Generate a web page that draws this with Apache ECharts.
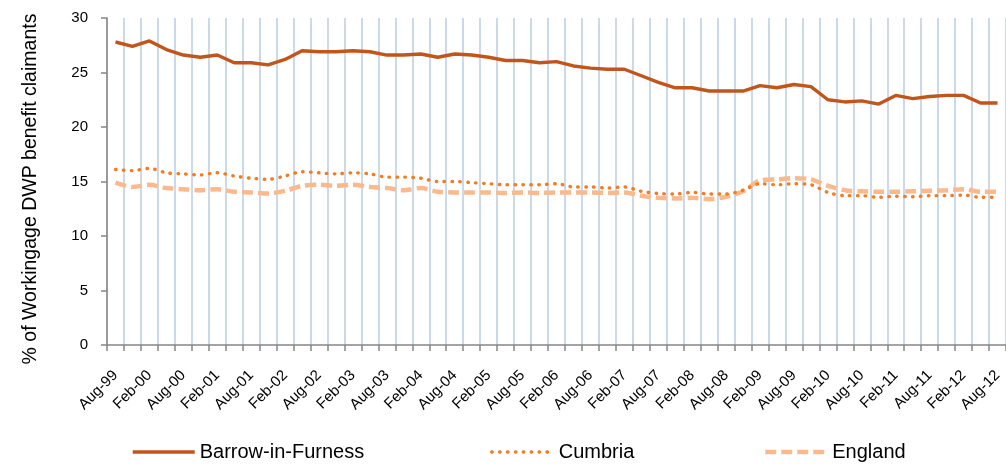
<!DOCTYPE html>
<html>
<head>
<meta charset="utf-8">
<script src="https://cdn.jsdelivr.net/npm/echarts@6/dist/echarts.min.js"></script>
<style>
  html, body { margin: 0; padding: 0; background: #fff; }
  #chart { width: 1006px; height: 464px; }
</style>
</head>
<body>
<div id="chart"></div>
<script>
// quarterly dates, Aug-99 .. Aug-12
const quarters = [
  'Aug-99', 'Nov-99', 'Feb-00', 'May-00', 'Aug-00', 'Nov-00', 'Feb-01', 'May-01',
  'Aug-01', 'Nov-01', 'Feb-02', 'May-02', 'Aug-02', 'Nov-02', 'Feb-03', 'May-03',
  'Aug-03', 'Nov-03', 'Feb-04', 'May-04', 'Aug-04', 'Nov-04', 'Feb-05', 'May-05',
  'Aug-05', 'Nov-05', 'Feb-06', 'May-06', 'Aug-06', 'Nov-06', 'Feb-07', 'May-07',
  'Aug-07', 'Nov-07', 'Feb-08', 'May-08', 'Aug-08', 'Nov-08', 'Feb-09', 'May-09',
  'Aug-09', 'Nov-09', 'Feb-10', 'May-10', 'Aug-10', 'Nov-10', 'Feb-11', 'May-11',
  'Aug-11', 'Nov-11', 'Feb-12', 'May-12', 'Aug-12'
];

const barrow = [
  27.8, 27.4, 27.9, 27.1, 26.6, 26.4, 26.6, 25.9, 25.9, 25.7, 26.2, 27.0, 26.9, 26.9,
  27.0, 26.9, 26.6, 26.6, 26.7, 26.4, 26.7, 26.6, 26.4, 26.1, 26.1, 25.9, 26.0, 25.6,
  25.4, 25.3, 25.3, 24.7, 24.1,
  23.6, 23.6, 23.3, 23.3, 23.3, 23.8, 23.6, 23.9, 23.7, 22.5, 22.3, 22.4, 22.1, 22.9,
  22.6, 22.8, 22.9, 22.9, 22.2, 22.2
];

const cumbria = [
  16.1, 16.0, 16.2, 15.8, 15.7, 15.6, 15.8, 15.5, 15.3, 15.2, 15.5, 15.9, 15.8, 15.7,
  15.8, 15.7, 15.4, 15.4, 15.3, 15.0, 15.0, 14.9, 14.8, 14.7, 14.7, 14.7, 14.8, 14.5,
  14.5, 14.4, 14.5, 14.1, 13.9,
  13.85, 14.0, 13.85, 13.85, 14.2, 14.8, 14.7, 14.8, 14.7, 14.0, 13.7, 13.7, 13.55, 13.65,
  13.6, 13.7, 13.7, 13.75, 13.55, 13.55
];

const england = [
  14.9, 14.5, 14.7, 14.4, 14.3, 14.2, 14.3, 14.05, 14.0, 13.9, 14.15, 14.6, 14.7, 14.6,
  14.7, 14.5, 14.4, 14.2, 14.4, 14.05, 14.0, 14.0, 14.0, 13.95, 14.0, 13.95, 14.0, 14.0,
  14.0, 13.95, 14.0, 13.7, 13.5,
  13.45, 13.5, 13.4, 13.6, 14.1, 15.1, 15.2, 15.3, 15.2, 14.6, 14.2, 14.1, 14.05, 14.05,
  14.1, 14.15, 14.2, 14.3, 14.05, 14.05
];

const yTicks = { min: 0, max: 30, interval: 5 };

const chart = echarts.init(document.getElementById('chart'));
const font = 'Liberation Sans, Arial, sans-serif';

// one legend block per series so each can sit where the original has it
function legendAt(left, name) {
  return {
    left: left,
    top: 442,
    padding: 0,
    itemWidth: 62,
    itemHeight: 14,
    itemGap: 0,
    itemStyle: { opacity: 0 },
    lineStyle: { width: 'inherit' },
    textStyle: { fontFamily: font, fontSize: 20, color: '#000' },
    data: [name]
  };
}

let option = {
  animation: false,
  grid: { left: 107, right: 0, top: 18, bottom: 119, containLabel: false },
  legend: [
    legendAt(131, 'Barrow-in-Furness'),
    legendAt(490, 'Cumbria'),
    legendAt(763, 'England')
  ],
  xAxis: {
    type: 'category',
    boundaryGap: true,
    data: quarters,
    axisLine: { lineStyle: { color: '#868686', width: 1.5 } },
    axisTick: { show: true, interval: 0, length: 6, lineStyle: { color: '#868686', width: 1.5 } },
    axisLabel: {
      interval: 1,
      rotate: 45,
      margin: 28,
      color: '#000',
      fontFamily: font,
      fontSize: 15
    },
    splitLine: { show: true, interval: 0, lineStyle: { color: '#b9cde5', width: 1.5 } }
  },
  yAxis: {
    type: 'value',
    min: yTicks.min,
    max: yTicks.max,
    interval: yTicks.interval,
    name: '% of Workingage DWP benefit claimants',
    nameLocation: 'middle',
    nameGap: 66,
    nameTextStyle: { fontFamily: font, fontSize: 19.5, color: '#000', padding: [0, 15, 0, 0] },
    axisLine: { show: true, lineStyle: { color: '#868686', width: 1.5 } },
    axisTick: { show: true, length: 6, lineStyle: { color: '#868686', width: 1.5 } },
    axisLabel: { color: '#000', fontFamily: font, fontSize: 15, margin: 19 },
    splitLine: { show: false }
  },
  series: [
    {
      name: 'Barrow-in-Furness',
      type: 'line',
      data: barrow,
      symbol: 'none',
      itemStyle: { color: '#c0561b' },
      lineStyle: { color: '#c0561b', width: 3.4 },
      z: 4
    },
    {
      name: 'Cumbria',
      type: 'line',
      data: cumbria,
      symbol: 'none',
      smooth: 0.3,
      itemStyle: { color: '#f47b20' },
      lineStyle: { color: '#f47b20', width: 3.4, type: [0.5, 7.4], cap: 'round' },
      z: 3
    },
    {
      name: 'England',
      type: 'line',
      data: england,
      symbol: 'none',
      smooth: 0.3,
      itemStyle: { color: '#fbb98c' },
      lineStyle: { color: '#fbb98c', width: 4.5, type: [11, 5] },
      z: 2
    }
  ]
};
chart.setOption(option);
</script>
</body>
</html>
